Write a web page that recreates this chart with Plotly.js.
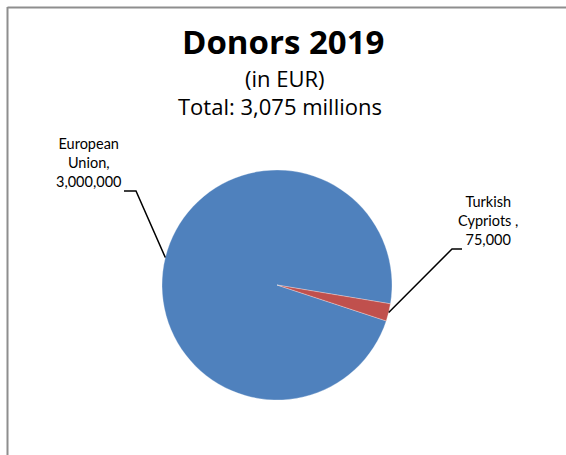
<!DOCTYPE html>
<html><head><meta charset="utf-8">
<script src="https://cdn.plot.ly/plotly-3.0.1.min.js"></script>
<style>html,body{margin:0;padding:0;background:#fff}#chart{width:566px;height:455px}</style>
</head><body><div id="chart"></div>
<script>
// ---- data ----
const donors = ["European Union", "Turkish Cypriots "];
const amounts = [3000000, 75000];
const amountLabels = ["3,000,000", "75,000"];
const labelLines = [["European", "Union,"], ["Turkish", "Cypriots ,"]];
const colors = ["#4F81BD", "#C0504D"];
const titleText = "Donors 2019";
const subtitleLines = ["(in EUR)", "Total: 3,075 millions"];

// ---- layout geometry (pixels) ----
const W = 566, H = 455;
const cx = 277, cy = 285, r = 115;
const rotation = 108.2;
const px = x => x / W;
const py = y => 1 - y / H;

// label anchor + leader elbow positions (pixels)
const labelPos = [
  {x: 88, yb: 192, elbow: [136, 191], end: [124, 191]},
  {x: 488, yb: 250, elbow: [452, 249], end: [462, 249]}
];

// slice midpoints from the data
const total = amounts.reduce((a, b) => a + b, 0);
let acc = rotation;
const mids = amounts.map(v => { const span = 360 * v / total; const m = acc + span / 2; acc += span; return m; });

const shapes = [
  {type: 'line', xref: 'paper', yref: 'paper', x0: px(7.5), x1: px(566), y0: py(7.5), y1: py(7.5), line: {color: '#8e8e8e', width: 2}},
  {type: 'line', xref: 'paper', yref: 'paper', x0: px(7.5), x1: px(7.5), y0: py(7), y1: py(455), line: {color: '#8e8e8e', width: 2}}
];
const annotations = [];
mids.forEach((m, i) => {
  const a = m * Math.PI / 180;
  const ex = cx + r * Math.sin(a), ey = cy - r * Math.cos(a);
  const L = labelPos[i];
  shapes.push({type: 'path', xref: 'paper', yref: 'paper',
    path: `M ${px(ex)} ${py(ey)} L ${px(L.elbow[0])} ${py(L.elbow[1])} L ${px(L.end[0])} ${py(L.end[1])}`,
    line: {color: '#000', width: 1.5}});
  annotations.push({xref: 'paper', yref: 'paper', x: px(L.x), y: py(L.yb), xanchor: 'center', yanchor: 'bottom',
    text: labelLines[i].concat([amountLabels[i]]).join('<br>'), showarrow: false, align: 'center',
    font: {family: 'Lato, sans-serif', size: 14.5, color: '#000'}});
});
annotations.push({xref: 'paper', yref: 'paper', x: px(283), y: py(41), xanchor: 'center', yanchor: 'middle',
  text: '<b>' + titleText + '</b>', showarrow: false, font: {family: '"Open Sans", sans-serif', size: 33, color: '#000'}});
annotations.push({xref: 'paper', yref: 'paper', x: px(285), y: py(78), xanchor: 'center', yanchor: 'middle',
  text: subtitleLines[0], showarrow: false, font: {family: '"Open Sans", sans-serif', size: 22, color: '#000'}});
annotations.push({xref: 'paper', yref: 'paper', x: px(280), y: py(106), xanchor: 'center', yanchor: 'middle',
  text: subtitleLines[1], showarrow: false, font: {family: '"Open Sans", sans-serif', size: 22, color: '#000'}});

const data = [{
  type: 'pie', labels: donors, values: amounts, sort: false, direction: 'clockwise', rotation: rotation,
  marker: {colors: colors, line: {color: '#ffffff', width: 0.3}},
  textinfo: 'none', hoverinfo: 'label+value', showlegend: false,
  domain: {x: [px(cx - r), px(cx + r)], y: [py(cy + r), py(cy - r)]}
}];
const layout = {
  width: W, height: H, margin: {l: 0, r: 0, t: 0, b: 0},
  paper_bgcolor: '#fff', plot_bgcolor: '#fff', showlegend: false,
  shapes: shapes, annotations: annotations
};
Plotly.newPlot('chart', data, layout, {displayModeBar: false, staticPlot: true});
</script></body></html>
